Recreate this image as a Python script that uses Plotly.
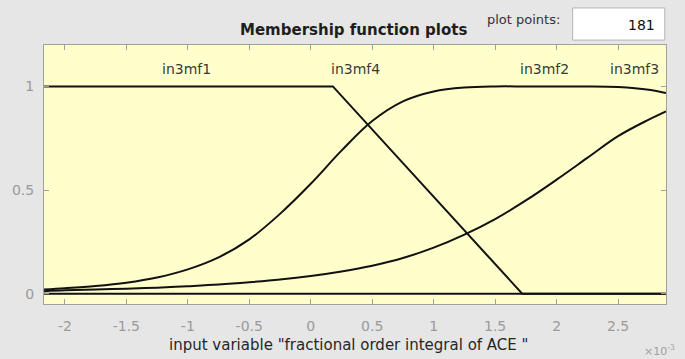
import plotly.graph_objects as go

# x values are in units of 1e-3
x_min, x_max = -2.17, 2.89

mf_x = [-2.17, -2.0, -1.75, -1.5, -1.25, -1.0, -0.75, -0.5, -0.25, 0.0, 0.25,
        0.5, 0.75, 1.0, 1.25, 1.5, 1.75, 2.0, 2.25, 2.5, 2.75, 2.89]

in3mf2 = [0.02, 0.026, 0.037, 0.053, 0.078, 0.117, 0.175, 0.262, 0.385, 0.53, 0.69,
          0.833, 0.928, 0.976, 0.995, 1.0, 1.0, 1.0, 1.0, 0.997, 0.984, 0.968]

in3mf3 = [0.012, 0.016, 0.02, 0.024, 0.029, 0.036, 0.044, 0.055, 0.068, 0.085, 0.107,
          0.135, 0.172, 0.222, 0.285, 0.36, 0.45, 0.55, 0.655, 0.76, 0.84, 0.88]

in3mf1_x = [-2.17, 0.18, 1.72, 2.89]
in3mf1 = [1.0, 1.0, 0.0, 0.0]

in3mf4_x = [-2.17, 2.89]
in3mf4 = [0.0, 0.0]

mf_names = ["in3mf1", "in3mf4", "in3mf2", "in3mf3"]
mf_label_x = [-1.01, 0.36, 1.90, 2.63]

x_ticks = [-2, -1.5, -1, -0.5, 0, 0.5, 1, 1.5, 2, 2.5]
x_tick_text = ["-2", "-1.5", "-1", "-0.5", "0", "0.5", "1", "1.5", "2", "2.5"]
y_ticks = [0, 0.5, 1]
y_tick_text = ["0", "0.5", "1"]

FONT = "DejaVu Sans, Liberation Sans, sans-serif"
line = dict(color="#111111", width=2)

fig = go.Figure()
fig.add_trace(go.Scatter(x=in3mf4_x, y=in3mf4, mode="lines", line=line))
fig.add_trace(go.Scatter(x=in3mf1_x, y=in3mf1, mode="lines", line=line))
fig.add_trace(go.Scatter(x=mf_x, y=in3mf2, mode="lines",
                         line=dict(color="#111111", width=2, shape="spline")))
fig.add_trace(go.Scatter(x=mf_x, y=in3mf3, mode="lines",
                         line=dict(color="#111111", width=2, shape="spline")))

for name, lx in zip(mf_names, mf_label_x):
    fig.add_annotation(x=lx, y=1.085, xref="x", yref="y", text=name, showarrow=False,
                       font=dict(family=FONT, size=14, color="#3a3a3a"),
                       xanchor="center", yanchor="middle")

axis_common = dict(showgrid=False, zeroline=False, showline=True, linecolor="#a0a0a0",
                   linewidth=1, mirror="ticks", ticks="inside", ticklen=5,
                   tickcolor="#a0a0a0", tickfont=dict(family=FONT, size=14, color="#9a9a9a"))

fig.update_xaxes(range=[x_min, x_max], tickvals=x_ticks, ticktext=x_tick_text,
                 ticklabelstandoff=9, **axis_common)
fig.update_yaxes(range=[-0.05, 1.2], tickvals=y_ticks, ticktext=y_tick_text,
                 ticklabelstandoff=6, **axis_common)

# title & controls
fig.add_annotation(x=0.498, y=1.058, xref="paper", yref="paper",
                   text="<b>Membership function plots</b>", showarrow=False,
                   font=dict(family=FONT, size=15, color="#1e1e1e"),
                   xanchor="center", yanchor="middle")
fig.add_annotation(x=0.771, y=1.098, xref="paper", yref="paper",
                   text="plot points:", showarrow=False,
                   font=dict(family=FONT, size=13, color="#333333"),
                   xanchor="center", yanchor="middle")
fig.add_shape(type="rect", xref="paper", yref="paper", x0=0.850, x1=0.998,
              y0=1.019, y1=1.143, fillcolor="white", line=dict(color="#b5b5b5", width=1),
              layer="above")
fig.add_annotation(x=0.986, y=1.077, xref="paper", yref="paper", text="181",
                   showarrow=False, font=dict(family=FONT, size=14, color="#111111"),
                   xanchor="right", yanchor="middle")

# axis title and exponent
fig.add_annotation(x=0.49, y=-0.158, xref="paper", yref="paper",
                   text='input variable "fractional order integral of ACE "',
                   showarrow=False, font=dict(family=FONT, size=15, color="#262626"),
                   xanchor="center", yanchor="middle")
fig.add_annotation(x=0.99, y=-0.18, xref="paper", yref="paper",
                   text="×10<sup>-3</sup>", showarrow=False,
                   font=dict(family=FONT, size=11, color="#a0a0a0"),
                   xanchor="center", yanchor="middle")

fig.update_layout(width=685, height=359, showlegend=False,
                  margin=dict(l=38, r=19, t=45, b=55),
                  paper_bgcolor="#e6e6e6", plot_bgcolor="#ffffcc")

fig.write_html("out.html", config={"displayModeBar": False},
               post_script="document.body.style.margin='0px';"
                           "document.body.style.overflow='hidden';")
